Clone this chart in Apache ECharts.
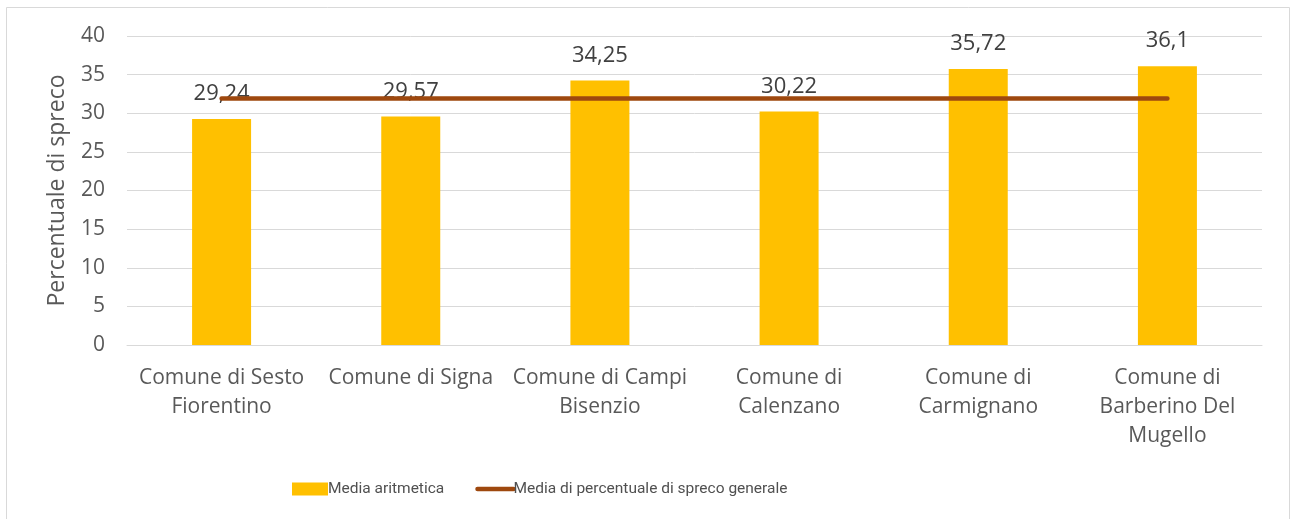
<!DOCTYPE html>
<html>
<head>
<meta charset="utf-8">
<script src="https://cdn.jsdelivr.net/npm/echarts@6/dist/echarts.min.js"></script>
<style>
  html, body { margin: 0; padding: 0; background: #ffffff; }
  #chart { width: 1292px; height: 519px; }
</style>
</head>
<body>
<div id="chart"></div>
<script>
// Municipalities (line breaks as shown under the axis)
const categories = [
  'Comune di Sesto\nFiorentino',
  'Comune di Signa',
  'Comune di Campi\nBisenzio',
  'Comune di\nCalenzano',
  'Comune di\nCarmignano',
  'Comune di\nBarberino Del\nMugello'
];
// Arithmetic mean of waste percentage per municipality
const mediaAritmetica = [29.24, 29.57, 34.25, 30.22, 35.72, 36.1];
// Overall mean waste percentage (constant reference line)
const mediaGenerale = [31.9, 31.9, 31.9, 31.9, 31.9, 31.9];
const yTicks = { min: 0, max: 40, interval: 5 };

const FONT = 'Open Sans';
const LEGEND_FONT = 'Roboto';
const TEXT = '#595959';
const chart = echarts.init(document.getElementById('chart'));

chart.setOption({
  animation: false,
  backgroundColor: '#ffffff',
  textStyle: { fontFamily: FONT },
  graphic: [{
    type: 'rect',
    shape: { x: 6.5, y: 7.5, width: 1283, height: 530 },
    style: { fill: 'none', stroke: '#d9d9d9', lineWidth: 1 },
    silent: true,
    z: -1
  }],
  grid: { left: 127, right: 30, top: 36, bottom: 174, containLabel: false },
  legend: {
    top: 476,
    left: 287,
    itemGap: 31,
    itemWidth: 36,
    itemHeight: 13,
    textStyle: { fontFamily: LEGEND_FONT, fontSize: 15.5, color: '#505050', padding: [0, 0, 0, -5] },
    data: [
      { name: 'Media aritmetica', icon: 'rect' },
      {
        name: 'Media di percentuale di spreco generale',
        itemStyle: { opacity: 0 },
        lineStyle: { width: 4.5, cap: 'round' }
      }
    ]
  },
  xAxis: {
    type: 'category',
    data: categories,
    axisLine: { lineStyle: { color: '#d9d9d9', width: 1 } },
    axisTick: { show: false },
    axisLabel: {
      interval: 0,
      fontFamily: FONT,
      fontSize: 21,
      color: TEXT,
      lineHeight: 29,
      margin: 19
    }
  },
  yAxis: {
    type: 'value',
    min: yTicks.min,
    max: yTicks.max,
    interval: yTicks.interval,
    name: 'Percentuale di spreco',
    nameLocation: 'middle',
    nameGap: 58,
    nameTextStyle: { fontFamily: FONT, fontSize: 23, color: TEXT },
    axisLine: { show: false },
    axisTick: { show: false },
    axisLabel: { fontFamily: FONT, fontSize: 21, color: TEXT, margin: 22 },
    splitLine: { lineStyle: { color: '#d9d9d9', width: 1 } }
  },
  series: [
    {
      name: 'Media aritmetica',
      type: 'bar',
      data: mediaAritmetica,
      barWidth: 59,
      itemStyle: { color: '#ffc000' },
      label: {
        show: true,
        position: 'top',
        distance: 14,
        fontFamily: FONT,
        fontSize: 22,
        color: '#404040',
        formatter: p => String(p.value).replace('.', ',')
      },
      z: 2
    },
    {
      name: 'Media di percentuale di spreco generale',
      type: 'line',
      data: mediaGenerale,
      symbol: 'none',
      itemStyle: { color: '#9e480e' },
      lineStyle: { color: '#9e480e', width: 4.5, cap: 'round' },
      z: 3
    }
  ]
});
</script>
</body>
</html>
